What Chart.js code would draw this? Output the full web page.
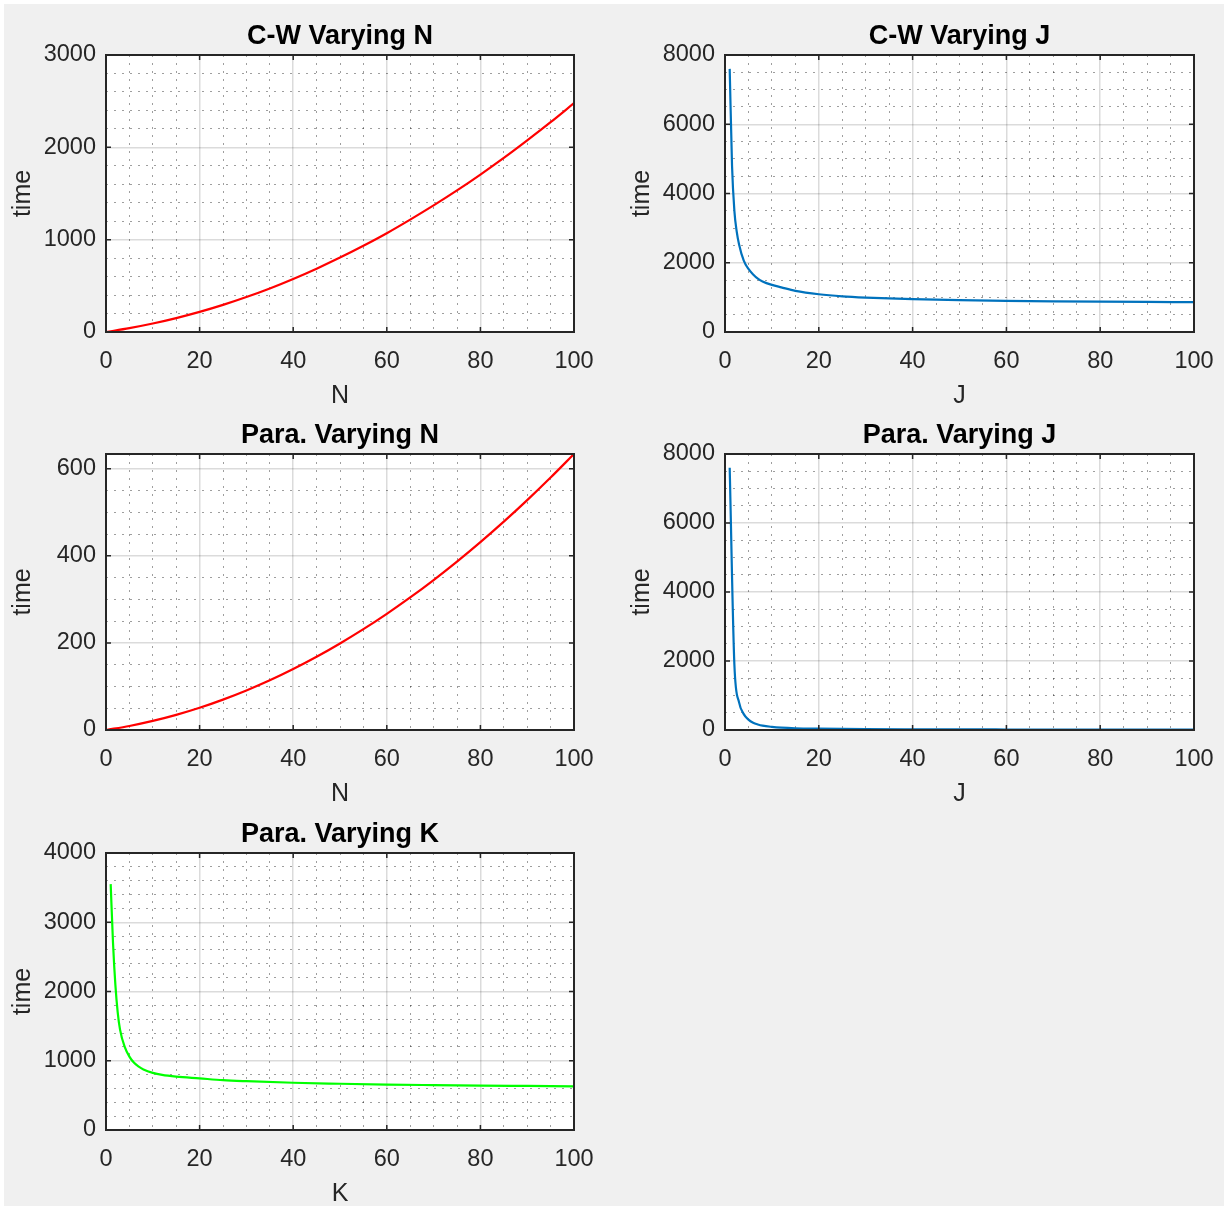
<!DOCTYPE html>
<html>
<head>
<meta charset="utf-8">
<script src="https://cdn.jsdelivr.net/npm/chart.js@4.4.1/dist/chart.umd.min.js"></script>
<style>
  html, body { margin: 0; padding: 0; background: #fff; width: 1228px; height: 1210px; overflow: hidden; }
  #fig { position: absolute; left: 4px; top: 4px; width: 1220px; height: 1202px; background: #f0f0f0; }
  canvas { position: absolute; }
</style>
</head>
<body>
<div id="fig"></div>
<script>
// values
const cwN_x = [0, 5, 10, 15, 20, 25, 30, 35, 40, 45, 50, 55, 60, 65, 70, 75, 80, 85, 90, 95, 100]
const cwN_y = [0, 42, 92, 151, 218, 294, 379, 472, 575, 686, 806, 934, 1070, 1217, 1371, 1533, 1705, 1885, 2075, 2272, 2478]

const cwJ_x = [1, 1.5, 2, 2.5, 3, 4, 5, 6, 7, 8, 10, 12, 15, 20, 25, 30, 40, 50, 60, 70, 80, 90, 100]
const cwJ_y = [7600, 4800, 3500, 2900, 2530, 2060, 1820, 1660, 1540, 1460, 1360, 1290, 1190, 1090, 1030, 995, 950, 920, 900, 885, 875, 868, 862]

const paraN_x = [0, 5, 10, 15, 20, 25, 30, 35, 40, 45, 50, 55, 60, 65, 70, 75, 80, 85, 90, 95, 100]
const paraN_y = [0, 9.2, 20.8, 34.7, 51, 69.8, 90.8, 114.1, 140, 168.1, 198.7, 231.5, 266.7, 304.3, 344.3, 386.6, 431.3, 478.3, 527.7, 579.6, 633.7]

const paraJ_x = [1, 2, 3, 4, 5, 6, 7, 8, 10, 12, 15, 20, 30, 40, 60, 80, 100]
const paraJ_y = [7600, 1900, 800, 460, 300, 210, 160, 125, 90, 68, 50, 38, 25, 20, 15, 12, 10]

const paraK_x = [1, 1.5, 2, 2.5, 3, 4, 5, 6, 7, 8, 10, 12, 15, 20, 25, 30, 40, 50, 60, 70, 80, 90, 100]
const paraK_y = [3550, 2700, 2100, 1700, 1450, 1200, 1060, 970, 915, 875, 825, 795, 770, 745, 720, 705, 682, 668, 656, 648, 641, 636, 631]

// tick positions
const xTicks = [0, 20, 40, 60, 80, 100]
const xMinorStep = 5
const yTicks3000 = [0, 1000, 2000, 3000]
const yTicks8000 = [0, 2000, 4000, 6000, 8000]
const yTicks600 = [0, 200, 400, 600]
const yTicks4000 = [0, 1000, 2000, 3000, 4000]

Chart.defaults.font.family = '"Liberation Sans", Arial, Helvetica, sans-serif'

const AXIS = '#262626'
const Y_W = 100   // room for y ticks + label
const TOP_H = 36  // title block
const X_H = 80    // room for x ticks + label
const RIGHT = 40  // must cover half of the last x label + tick padding

// box around the axes + small inward ticks like matlab
const axesBox = {
    id: 'axesBox',
    afterDraw(chart) {
        const { ctx, chartArea: a, scales } = chart
        ctx.save()
        ctx.strokeStyle = AXIS
        ctx.lineWidth = 1.5
        ctx.beginPath()
        scales.x.ticks.forEach((t) => {
            const px = scales.x.getPixelForValue(t.value)
            ctx.moveTo(px, a.bottom); ctx.lineTo(px, a.bottom - 5)
            ctx.moveTo(px, a.top); ctx.lineTo(px, a.top + 5)
        })
        scales.y.ticks.forEach((t) => {
            const py = scales.y.getPixelForValue(t.value)
            ctx.moveTo(a.left, py); ctx.lineTo(a.left + 5, py)
            ctx.moveTo(a.right, py); ctx.lineTo(a.right - 5, py)
        })
        ctx.stroke()
        ctx.lineWidth = 2
        ctx.strokeRect(a.left, a.top, a.right - a.left, a.bottom - a.top)
        ctx.restore()
    },
}

const whitePlot = {
    id: 'whitePlot',
    beforeDraw(chart) {
        const { ctx, chartArea: a } = chart
        ctx.save()
        ctx.fillStyle = '#fff'
        ctx.fillRect(a.left, a.top, a.right - a.left, a.bottom - a.top)
        ctx.restore()
    },
}

// minor ticks between the major ones
function minorTicks(major, step) {
    const out = []
    for (let i = 0; i < major.length - 1; i++) {
        for (let v = major[i] + step; v < major[i + 1] - 1e-9; v += step) out.push({ value: v })
    }
    return out
}

function makePanel(left, top, w, h, xs, ys, color, yMax, yTicks, yMinorStep, title, xLabel) {
    const canvas = document.createElement('canvas')
    const cw = Y_W + w + RIGHT
    const ch = TOP_H + h + X_H
    canvas.width = cw
    canvas.height = ch
    canvas.style.left = (left - Y_W) + 'px'
    canvas.style.top = (top - TOP_H) + 'px'
    canvas.style.width = cw + 'px'
    canvas.style.height = ch + 'px'
    document.body.appendChild(canvas)

    const points = xs.map((x, i) => ({ x: x, y: ys[i] }))
    const yMinorBase = yTicks.concat(yMax > yTicks[yTicks.length - 1] ? [yMax] : [])

    new Chart(canvas.getContext('2d'), {
        type: 'line',
        data: {
            datasets: [
                {
                    data: points,
                    borderColor: color,
                    borderWidth: 2.2,
                    pointRadius: 0,
                    cubicInterpolationMode: 'monotone',
                    fill: false,
                },
            ],
        },
        options: {
            responsive: false,
            animation: false,
            devicePixelRatio: 1,
            layout: { padding: { left: 0, top: 0, bottom: 0, right: RIGHT } },
            plugins: {
                legend: { display: false },
                tooltip: { enabled: false },
                title: {
                    display: true,
                    text: title,
                    fullSize: false,
                    color: '#000',
                    font: { size: 27, weight: 'bold' },
                    padding: { top: 2, bottom: 2.6 },
                },
            },
            scales: {
                x: {
                    type: 'linear',
                    min: 0,
                    max: 100,
                    afterBuildTicks: (s) => { s.ticks = xTicks.map((v) => ({ value: v })) },
                    ticks: {
                        color: AXIS,
                        font: { size: 23.5 },
                        padding: 15,
                        maxRotation: 0,
                    },
                    grid: { color: 'rgba(0,0,0,0.14)', lineWidth: 1.5, drawTicks: false },
                    border: { display: false },
                    title: {
                        display: true,
                        text: xLabel,
                        color: AXIS,
                        font: { size: 25 },
                        padding: { top: 0, bottom: 1 },
                    },
                    afterFit: (s) => { s.height = X_H },
                },
                xm: {
                    type: 'linear',
                    position: 'bottom',
                    min: 0,
                    max: 100,
                    afterBuildTicks: (s) => { s.ticks = minorTicks(xTicks, xMinorStep) },
                    ticks: { display: false },
                    grid: { color: 'rgba(0,0,0,0.38)', lineWidth: 1, drawTicks: false },
                    border: { display: false, dash: [2, 6] },
                    afterFit: (s) => { s.height = 0 },
                },
                y: {
                    type: 'linear',
                    min: 0,
                    max: yMax,
                    afterBuildTicks: (s) => { s.ticks = yTicks.map((v) => ({ value: v })) },
                    ticks: {
                        color: AXIS,
                        font: { size: 23.5 },
                        padding: 10,
                        callback: (v) => String(v),
                    },
                    grid: { color: 'rgba(0,0,0,0.14)', lineWidth: 1.5, drawTicks: false },
                    border: { display: false },
                    title: {
                        display: true,
                        text: 'time',
                        color: AXIS,
                        font: { size: 25 },
                        padding: { top: 2, bottom: 0 },
                    },
                    afterFit: (s) => { s.width = Y_W },
                },
                ym: {
                    type: 'linear',
                    position: 'left',
                    min: 0,
                    max: yMax,
                    afterBuildTicks: (s) => { s.ticks = minorTicks(yMinorBase, yMinorStep) },
                    ticks: { display: false },
                    grid: { color: 'rgba(0,0,0,0.38)', lineWidth: 1, drawTicks: false },
                    border: { display: false, dash: [2, 6] },
                    afterFit: (s) => { s.width = 0 },
                },
            },
        },
        plugins: [whitePlot, axesBox],
    })
}

makePanel(106, 54, 468, 278, cwN_x, cwN_y, '#ff0000', 3000, yTicks3000, 200, 'C-W Varying N', 'N')
makePanel(725, 54, 469, 278, cwJ_x, cwJ_y, '#0072bd', 8000, yTicks8000, 500, 'C-W Varying J', 'J')
makePanel(106, 453, 468, 277, paraN_x, paraN_y, '#ff0000', 633.7, yTicks600, 50, 'Para. Varying N', 'N')
makePanel(725, 453, 469, 277, paraJ_x, paraJ_y, '#0072bd', 8000, yTicks8000, 500, 'Para. Varying J', 'J')
makePanel(106, 852, 468, 278, paraK_x, paraK_y, '#00ff00', 4000, yTicks4000, 200, 'Para. Varying K', 'K')
</script>
</body>
</html>
